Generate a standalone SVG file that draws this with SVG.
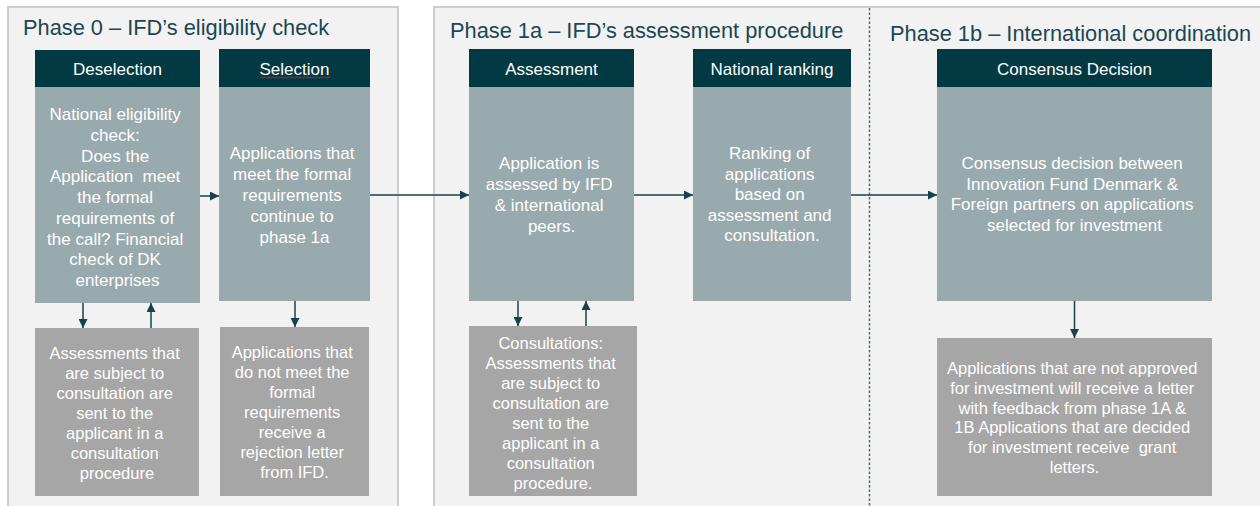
<svg xmlns="http://www.w3.org/2000/svg" width="1260" height="506" viewBox="0 0 1260 506">
<defs>
<style>
.panel{fill:#F2F2F2;stroke:#CDCDCD;stroke-width:2}
.hd{fill:#023A44}
.bd{fill:#98AAAE}
.gr{fill:#A6A6A6}
.title{font-family:"Liberation Sans",Arial,sans-serif;font-size:21.8px;fill:#1B4652}
.ht{font-family:"Liberation Sans",Arial,sans-serif;font-size:17px;fill:#FFFFFF;text-anchor:middle}
.bt{font-family:"Liberation Sans",Arial,sans-serif;font-size:17px;fill:#FFFFFF;text-anchor:middle}
.gt{font-family:"Liberation Sans",Arial,sans-serif;font-size:16.5px;fill:#FFFFFF;text-anchor:middle}
.conn{stroke:#17424C;stroke-width:1.5;fill:none;marker-end:url(#ah)}
</style>
<marker id="ah" markerUnits="userSpaceOnUse" markerWidth="9" markerHeight="9" refX="9" refY="4.5" orient="auto">
<path d="M0,0 L9,4.5 L0,9 Z" fill="#17424C"/>
</marker>
</defs>
<rect width="1260" height="506" fill="#FFFFFF"/>

<g id="phase0">
<rect class="panel" x="8" y="7" width="390" height="506"/>
<text class="title" x="23" y="35">Phase 0 – IFD’s eligibility check</text>
</g>
<g id="phase1">
<rect class="panel" x="434" y="7" width="830" height="506"/>
<line x1="869.5" y1="8" x2="869.5" y2="506" stroke="#4A6A75" stroke-width="1.5" stroke-dasharray="2.5 2"/>
<text class="title" x="450" y="38">Phase 1a – IFD’s assessment procedure</text>
<text class="title" x="890" y="41">Phase 1b – International coordination</text>
</g>

<g id="deselection">
<rect class="hd" x="35" y="50" width="165" height="37"/>
<rect class="bd" x="35" y="87" width="165" height="216"/>
<text class="ht" x="117.5" y="75">Deselection</text>
<text class="bt">
<tspan x="117.5" y="120">National eligibility</tspan>
<tspan x="117.5" y="140.75">check:</tspan>
<tspan x="117.5" y="161.5">Does the</tspan>
<tspan x="117.5" y="182.25">Application&#160; meet</tspan>
<tspan x="117.5" y="203">the formal</tspan>
<tspan x="117.5" y="223.75">requirements of</tspan>
<tspan x="117.5" y="244.5">the call? Financial</tspan>
<tspan x="117.5" y="265.25">check of DK</tspan>
<tspan x="117.5" y="286">enterprises</tspan>
</text>
</g>

<g id="selection">
<rect class="hd" x="219" y="49" width="151" height="38"/>
<rect class="bd" x="219" y="87" width="151" height="214"/>
<text class="ht" x="294.5" y="75">Selection</text>
<path d="M260,77.5 q1,-1.2 2,0 t2,0 t2,0 t2,0 t2,0 t2,0 t2,0 t2,0 t2,0 t2,0 t2,0 t2,0 t2,0 t2,0 t2,0 t2,0 t2,0 t2,0 t2,0 t2,0 t2,0 t2,0 t2,0 t2,0 t2,0 t2,0 t2,0 t2,0 t2,0 t2,0 t2,0 t2,0 t2,0 t2,0 t2,0" fill="none" stroke="#D02020" stroke-width="0.9"/>
<text class="bt">
<tspan x="294.5" y="159">Applications that</tspan>
<tspan x="294.5" y="180">meet the formal</tspan>
<tspan x="294.5" y="201">requirements</tspan>
<tspan x="294.5" y="222">continue to</tspan>
<tspan x="294.5" y="243">phase 1a</tspan>
</text>
</g>

<g id="assessment">
<rect class="hd" x="469" y="49" width="165" height="38"/>
<rect class="bd" x="469" y="87" width="165" height="214"/>
<text class="ht" x="551.5" y="75">Assessment</text>
<text class="bt">
<tspan x="551.5" y="169">Application is</tspan>
<tspan x="551.5" y="190">assessed by IFD</tspan>
<tspan x="551.5" y="211">&amp; international</tspan>
<tspan x="551.5" y="232">peers.</tspan>
</text>
</g>

<g id="national-ranking">
<rect class="hd" x="693" y="49" width="158" height="38"/>
<rect class="bd" x="693" y="87" width="158" height="214"/>
<text class="ht" x="772" y="75">National ranking</text>
<text class="bt">
<tspan x="772" y="159">Ranking of</tspan>
<tspan x="772" y="179.5">applications</tspan>
<tspan x="772" y="200">based on</tspan>
<tspan x="772" y="220.5">assessment and</tspan>
<tspan x="772" y="241">consultation.</tspan>
</text>
</g>

<g id="consensus-decision">
<rect class="hd" x="937" y="49" width="275" height="38"/>
<rect class="bd" x="937" y="87" width="275" height="214"/>
<text class="ht" x="1074.5" y="75">Consensus Decision</text>
<text class="bt">
<tspan x="1074.5" y="169">Consensus decision between</tspan>
<tspan x="1074.5" y="189.7">Innovation Fund Denmark &amp;</tspan>
<tspan x="1074.5" y="210.3">Foreign partners on applications</tspan>
<tspan x="1074.5" y="231">selected for investment</tspan>
</text>
</g>

<g id="consultation-procedure">
<rect class="gr" x="35" y="328" width="164" height="168"/>
<text class="gt">
<tspan x="117" y="359">Assessments that</tspan>
<tspan x="117" y="379">are subject to</tspan>
<tspan x="117" y="399">consultation are</tspan>
<tspan x="117" y="419">sent to the</tspan>
<tspan x="117" y="439">applicant in a</tspan>
<tspan x="117" y="459">consultation</tspan>
<tspan x="117" y="479">procedure</tspan>
</text>
</g>

<g id="rejection">
<rect class="gr" x="220" y="327" width="149" height="169"/>
<text class="gt">
<tspan x="294.5" y="358">Applications that</tspan>
<tspan x="294.5" y="378">do not meet the</tspan>
<tspan x="294.5" y="398">formal</tspan>
<tspan x="294.5" y="418">requirements</tspan>
<tspan x="294.5" y="438">receive a</tspan>
<tspan x="294.5" y="458">rejection letter</tspan>
<tspan x="294.5" y="478">from IFD.</tspan>
</text>
</g>

<g id="consultations">
<rect class="gr" x="469" y="326" width="168" height="170"/>
<text class="gt">
<tspan x="553" y="349">Consultations:</tspan>
<tspan x="553" y="369">Assessments that</tspan>
<tspan x="553" y="389">are subject to</tspan>
<tspan x="553" y="409">consultation are</tspan>
<tspan x="553" y="429">sent to the</tspan>
<tspan x="553" y="449">applicant in a</tspan>
<tspan x="553" y="469">consultation</tspan>
<tspan x="553" y="489">procedure.</tspan>
</text>
</g>

<g id="letters">
<rect class="gr" x="937" y="338" width="275" height="158"/>
<text class="gt">
<tspan x="1074.5" y="374">Applications that are not approved</tspan>
<tspan x="1074.5" y="394">for investment will receive a letter</tspan>
<tspan x="1074.5" y="413.5">with feedback from phase 1A &amp;</tspan>
<tspan x="1074.5" y="433">1B Applications that are decided</tspan>
<tspan x="1074.5" y="453" xml:space="preserve">for investment receive  grant</tspan>
<tspan x="1074.5" y="473">letters.</tspan>
</text>
</g>

<g id="connectors">
<line class="conn" x1="200" y1="196" x2="219" y2="196"/>
<line class="conn" x1="370" y1="195" x2="469" y2="195"/>
<line class="conn" x1="634" y1="195" x2="693" y2="195"/>
<line class="conn" x1="851" y1="195" x2="937" y2="195"/>
<line class="conn" x1="83" y1="303" x2="83" y2="328"/>
<line class="conn" x1="151" y1="328" x2="151" y2="303"/>
<line class="conn" x1="295" y1="301" x2="295" y2="327"/>
<line class="conn" x1="518" y1="301" x2="518" y2="326"/>
<line class="conn" x1="586" y1="326" x2="586" y2="301"/>
<line class="conn" x1="1074.5" y1="301" x2="1074.5" y2="338"/>
</g>
</svg>
